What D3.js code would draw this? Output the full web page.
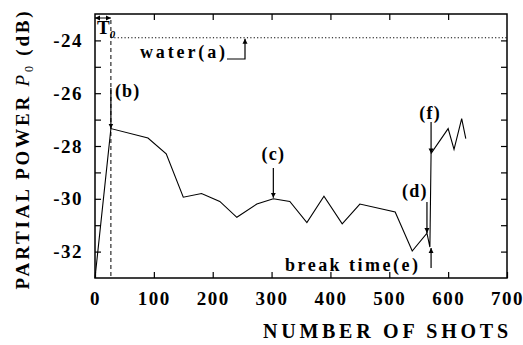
<!DOCTYPE html>
<html>
<head>
<meta charset="utf-8">
<script src="https://cdn.jsdelivr.net/npm/d3@7"></script>
<style>
  body { margin: 0; background: #fff; }
  text { font-family: "Liberation Serif", "DejaVu Serif", serif; font-weight: bold; fill: #000; }
</style>
</head>
<body>
<div id="chart"></div>
<script>
// number of shots vs partial power
var shots = [0, 27, 90, 121, 150, 181, 212, 241, 275, 303, 331, 360, 389, 420, 450, 510, 539, 564, 569, 571, 600, 610, 623, 630];
var power = [-33, -27.34, -27.7, -28.3, -29.94, -29.8, -30.1, -30.7, -30.2, -30.0, -30.1, -30.9, -29.9, -30.95, -30.2, -30.5, -31.98, -31.3, -31.83, -28.28, -27.34, -28.13, -26.96, -27.72];

var xTickLabels = [0, 100, 200, 300, 400, 500, 600, 700];
var yTickLabels = [-24, -26, -28, -30, -32];
var yMinor = [-24, -25, -26, -27, -28, -29, -30, -31, -32];

var waterLevel = -23.9;
var t0 = 27;

var margin = { top: 14, right: 16, bottom: 67, left: 95 };
var W = 523, H = 345;
var width = W - margin.left - margin.right;
var height = H - margin.top - margin.bottom;

var svg = d3.select("#chart").append("svg")
  .attr("width", W)
  .attr("height", H);

var g = svg.append("g")
  .attr("transform", "translate(" + margin.left + "," + margin.top + ")");

var x = d3.scaleLinear().domain([0, 700]).range([0, width]);
var y = d3.scaleLinear().domain([-33, -23]).range([height, 0]);

// arrow marker
svg.append("defs").append("marker")
  .attr("id", "arr")
  .attr("viewBox", "0 0 10 10")
  .attr("refX", 10).attr("refY", 5)
  .attr("markerWidth", 5).attr("markerHeight", 7)
  .attr("markerUnits", "userSpaceOnUse")
  .attr("orient", "auto-start-reverse")
  .append("path").attr("d", "M0,0L10,5L0,10z").attr("fill", "#000");

// axes, ticks inward
var xAxisB = d3.axisBottom(x).tickValues(xTickLabels).tickSize(-6).tickPadding(14).tickFormat(d3.format("d"));
var xAxisT = d3.axisTop(x).tickValues(xTickLabels.slice(1, -1)).tickSize(-6).tickFormat("");
var yAxisL = d3.axisLeft(y).tickValues(yMinor).tickSize(-6).tickPadding(12)
  .tickFormat(function(d) { return yTickLabels.indexOf(d) >= 0 ? d : ""; });
var yAxisR = d3.axisRight(y).tickValues(yMinor).tickSize(-6).tickFormat("");

function styleAxis(sel) {
  sel.select(".domain").remove();
  sel.selectAll("line").attr("stroke", "#000").attr("stroke-width", 1.2);
  sel.selectAll("text").attr("font-size", 19).attr("letter-spacing", 1.5)
    .style("font-family", "Liberation Serif").style("font-weight", "bold");
}

g.append("g").attr("transform", "translate(0," + height + ")").call(xAxisB).call(styleAxis);
g.append("g").call(xAxisT).call(styleAxis);
g.append("g").call(yAxisL).call(styleAxis);
g.append("g").attr("transform", "translate(" + width + ",0)").call(yAxisR).call(styleAxis);

g.append("rect")
  .attr("width", width).attr("height", height)
  .attr("fill", "none").attr("stroke", "#000").attr("stroke-width", 1.5);

// water level (dotted) and T0 (dashed)
g.append("line")
  .attr("x1", x(t0)).attr("x2", width)
  .attr("y1", y(waterLevel)).attr("y2", y(waterLevel))
  .attr("stroke", "#000").attr("stroke-width", 1).attr("stroke-dasharray", "1.2,2.2");

g.append("line")
  .attr("x1", x(t0)).attr("x2", x(t0))
  .attr("y1", 6).attr("y2", height)
  .attr("stroke", "#000").attr("stroke-width", 1).attr("stroke-dasharray", "4,3");

// T0 double arrow
g.append("line")
  .attr("x1", 0).attr("x2", x(t0)).attr("y1", 4).attr("y2", 4)
  .attr("stroke", "#000").attr("stroke-width", 1)
  .attr("marker-start", "url(#arr)").attr("marker-end", "url(#arr)");

var t0lab = g.append("text").attr("x", 2).attr("y", 20).attr("font-size", 19);
t0lab.append("tspan").text("T");
t0lab.append("tspan").attr("font-size", 11).attr("dy", 4).attr("font-style", "italic").text("0");

// data line
var line = d3.line()
  .x(function(d, i) { return x(shots[i]); })
  .y(function(d, i) { return y(power[i]); });

g.append("path")
  .datum(power)
  .attr("d", line)
  .attr("fill", "none")
  .attr("stroke", "#000")
  .attr("stroke-width", 1.1);

function arrow(x1, y1, x2, y2) {
  g.append("line")
    .attr("x1", x1).attr("y1", y1).attr("x2", x2).attr("y2", y2)
    .attr("stroke", "#000").attr("stroke-width", 1.2)
    .attr("marker-end", "url(#arr)");
}

function label(txt, tx, ty, anchor, len) {
  var t = g.append("text")
    .attr("x", tx).attr("y", ty)
    .attr("font-size", 18)
    .attr("letter-spacing", 1.2)
    .attr("text-anchor", anchor || "start")
    .text(txt);
  if (len) t.attr("letter-spacing", null).attr("textLength", len).attr("lengthAdjust", "spacing");
  return t;
}

// water(a)
label("water(a)", 45, 44, "start", 85);
g.append("polyline")
  .attr("points", [[132, 45], [150, 45], [150, y(waterLevel) + 1]].join(" "))
  .attr("fill", "none").attr("stroke", "#000").attr("stroke-width", 1.2)
  .attr("marker-end", "url(#arr)");

// (b)
label("(b)", x(t0) + 4, 83);
arrow(x(t0), 74, x(t0), y(power[1]));

// (c)
label("(c)", x(303), 146, "middle");
arrow(x(303), 154, x(303), y(power[9]) - 1);

// (d)
label("(d)", 307, 183);
arrow(x(564), 188, x(564), y(power[17]));

// (f)
label("(f)", x(571) - 1, 105, "middle");
arrow(x(571), 108, x(571), y(power[19]));

// break time(e)
label("break time(e)", 190, 257, "start", 133);
arrow(x(571), 254, x(571), y(power[18]) + 1);

// axis titles
svg.append("text")
  .attr("x", 263).attr("y", 338)
  .attr("font-size", 20)
  .attr("textLength", 245)
  .attr("lengthAdjust", "spacing")
  .text("NUMBER OF SHOTS");

var yl = svg.append("text")
  .attr("transform", "translate(29,149) rotate(-90)")
  .attr("text-anchor", "middle")
  .attr("font-size", 19)
  .attr("letter-spacing", 2.8);
yl.append("tspan").text("PARTIAL POWER ");
yl.append("tspan").attr("font-style", "italic").attr("font-weight", "normal").text("P");
yl.append("tspan").attr("font-size", 12).attr("dy", 4).attr("font-weight", "normal").text("0");
yl.append("tspan").attr("dy", -4).text(" (dB)");
</script>
</body>
</html>
